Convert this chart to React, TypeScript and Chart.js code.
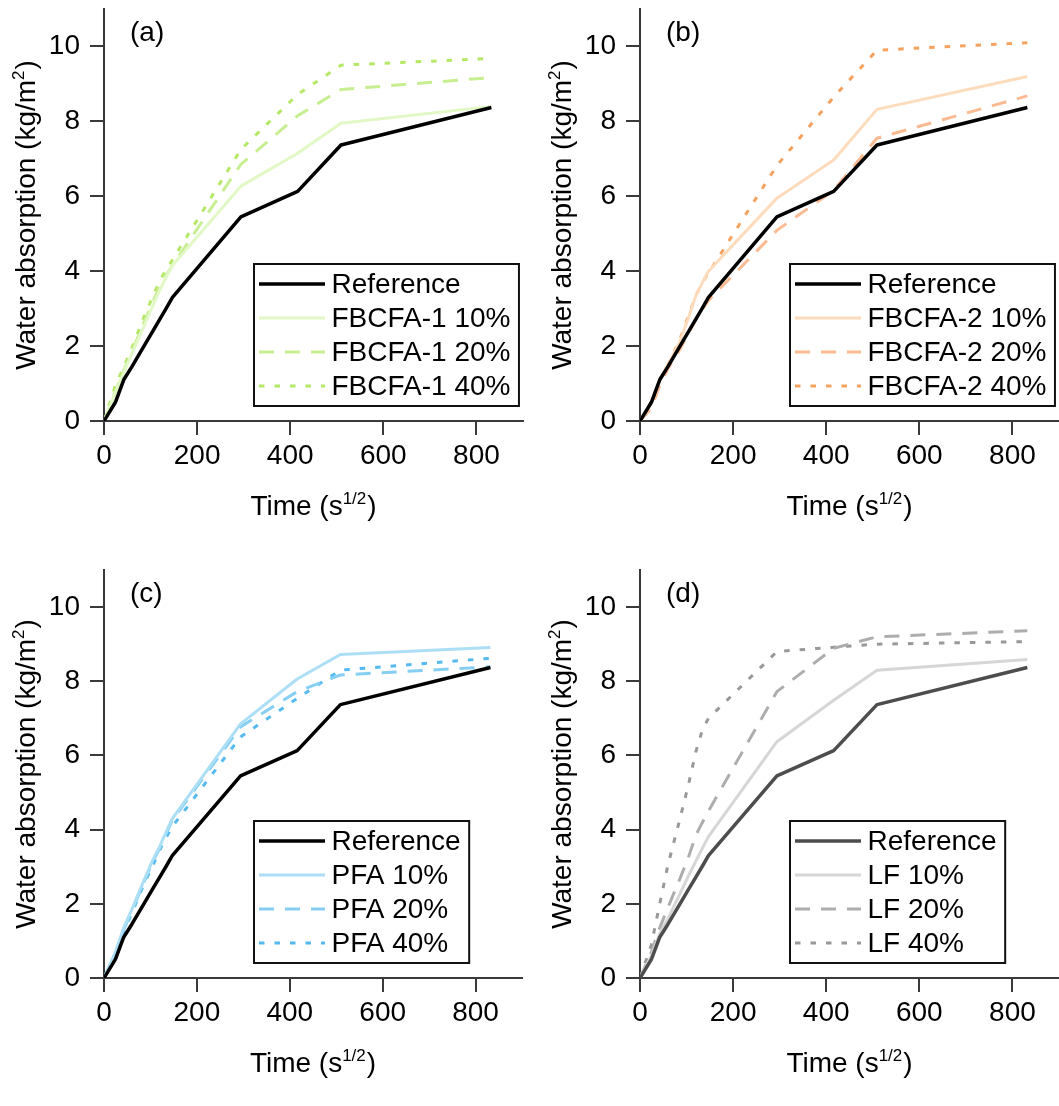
import React, { useEffect, useRef } from "react";
import { Chart, registerables } from "chart.js";

Chart.register(...registerables);

const FONT = '"Liberation Sans", Arial, Helvetica, sans-serif';
const AXIS_COLOR = "#3a3a3a";

// ---- data (x = square root of time, s^1/2) ----
const timeSqrt = [0, 24.5, 42.4, 60, 84.9, 103.9, 120, 134.2, 147, 294, 416, 509, 832];

const reference = [0, 0.5, 1.1, 1.45, 1.98, 2.38, 2.72, 3.02, 3.3, 5.45, 6.13, 7.37, 8.37];

const fbcfa1_10 = [0, 0.75, 1.3, 1.8, 2.5, 3.05, 3.5, 3.85, 4.15, 6.27, 7.15, 7.95, 8.4];
const fbcfa1_20 = [0, 0.8, 1.35, 1.85, 2.6, 3.15, 3.6, 3.9, 4.15, 6.85, 8.15, 8.85, 9.17];
const fbcfa1_40 = [0, 0.95, 1.45, 1.95, 2.75, 3.3, 3.75, 4.05, 4.3, 7.25, 8.72, 9.5, 9.68];

const fbcfa2_10 = [0, 0.5, 1.1, 1.5, 2.1, 2.75, 3.35, 3.7, 4.0, 5.95, 6.97, 8.32, 9.2];
const fbcfa2_20 = [0, 0.35, 0.95, 1.4, 1.9, 2.35, 2.7, 2.98, 3.22, 5.09, 6.16, 7.55, 8.68];
const fbcfa2_40 = [0, 0.5, 1.1, 1.5, 2.15, 2.8, 3.35, 3.7, 3.95, 6.82, 8.65, 9.9, 10.1];

const pfa_10 = [0, 0.7, 1.35, 1.85, 2.6, 3.15, 3.55, 3.95, 4.3, 6.85, 8.06, 8.72, 8.91];
const pfa_20 = [0, 0.65, 1.3, 1.8, 2.55, 3.1, 3.5, 3.9, 4.25, 6.77, 7.72, 8.17, 8.39];
const pfa_40 = [0, 0.6, 1.25, 1.75, 2.5, 3.0, 3.45, 3.8, 4.08, 6.5, 7.54, 8.3, 8.62];

const lf_10 = [0, 0.6, 1.2, 1.6, 2.25, 2.75, 3.15, 3.5, 3.81, 6.37, 7.49, 8.3, 8.59];
const lf_20 = [0, 0.7, 1.35, 1.9, 2.65, 3.25, 3.85, 4.2, 4.5, 7.72, 8.89, 9.2, 9.36];
const lf_40 = [0, 0.9, 2.0, 3.05, 4.25, 5.2, 6.1, 6.7, 7.0, 8.8, 8.92, 9.0, 9.07];

// ---- axes / labels ----
const xMajorTicks = [0, 200, 400, 600, 800];
const yMajorTicks = [0, 2, 4, 6, 8, 10];
const xRange = [0, 900];
const yRange = [0, 11];
const xTitleMain = "Time (s";
const xTitleSup = "1/2";
const yTitleMain = "Water absorption (kg/m";
const yTitleSup = "2";
const panelNames = ["(a)", "(b)", "(c)", "(d)"];

const SOLID: number[] = [];
const DASHED = [15, 11];
const DOTTED = [5.5, 10];

type Series = { label: string; values: number[]; color: string; dash: number[]; width: number };
type Panel = {
  name: string;
  x: number;
  y: number;
  w: number;
  h: number;
  area: { left: number; top: number; right: number; bottom: number };
  series: Series[];
};

const panels: Panel[] = [
  {
    name: panelNames[0], x: 0, y: 0, w: 530, h: 545,
    area: { left: 104, top: 9, right: 523, bottom: 421 },
    series: [
      { label: "Reference", values: reference, color: "#000000", dash: SOLID, width: 3.5 },
      { label: "FBCFA-1 10%", values: fbcfa1_10, color: "#e2f8c6", dash: SOLID, width: 3 },
      { label: "FBCFA-1 20%", values: fbcfa1_20, color: "#c8ee92", dash: DASHED, width: 3 },
      { label: "FBCFA-1 40%", values: fbcfa1_40, color: "#b5e866", dash: DOTTED, width: 3 },
    ],
  },
  {
    name: panelNames[1], x: 530, y: 0, w: 529, h: 545,
    area: { left: 110, top: 9, right: 529, bottom: 421 },
    series: [
      { label: "Reference", values: reference, color: "#000000", dash: SOLID, width: 3.5 },
      { label: "FBCFA-2 10%", values: fbcfa2_10, color: "#fddcbd", dash: SOLID, width: 3 },
      { label: "FBCFA-2 20%", values: fbcfa2_20, color: "#fabb92", dash: DASHED, width: 3 },
      { label: "FBCFA-2 40%", values: fbcfa2_40, color: "#f6a25f", dash: DOTTED, width: 3 },
    ],
  },
  {
    name: panelNames[2], x: 0, y: 555, w: 530, h: 551,
    area: { left: 104, top: 15, right: 522, bottom: 423 },
    series: [
      { label: "Reference", values: reference, color: "#000000", dash: SOLID, width: 3.5 },
      { label: "PFA 10%", values: pfa_10, color: "#acdff6", dash: SOLID, width: 3 },
      { label: "PFA 20%", values: pfa_20, color: "#86cff3", dash: DASHED, width: 3 },
      { label: "PFA 40%", values: pfa_40, color: "#55baf0", dash: DOTTED, width: 3 },
    ],
  },
  {
    name: panelNames[3], x: 530, y: 555, w: 529, h: 551,
    area: { left: 110, top: 15, right: 529, bottom: 423 },
    series: [
      { label: "Reference", values: reference, color: "#4d4d4d", dash: SOLID, width: 3.5 },
      { label: "LF 10%", values: lf_10, color: "#d6d6d6", dash: SOLID, width: 3 },
      { label: "LF 20%", values: lf_20, color: "#adadad", dash: DASHED, width: 3 },
      { label: "LF 40%", values: lf_40, color: "#999999", dash: DOTTED, width: 3 },
    ],
  },
];

function decorPlugin(panel: Panel) {
  return {
    id: "decor",
    afterDraw(chart: any) {
      const ctx: CanvasRenderingContext2D = chart.ctx;
      const ca = chart.chartArea;
      const xs = chart.scales.x;
      const ys = chart.scales.y;
      ctx.save();

      // tick marks (major long, minor short), outward
      ctx.strokeStyle = AXIS_COLOR;
      ctx.lineWidth = 2;
      ctx.setLineDash([]);
      ctx.beginPath();
      xs.ticks.forEach((t: any) => {
        const px = Math.round(xs.getPixelForValue(t.value));
        const len = t.label != null ? 14 : 8;
        ctx.moveTo(px, ca.bottom);
        ctx.lineTo(px, ca.bottom + len);
      });
      ys.ticks.forEach((t: any) => {
        const py = Math.round(ys.getPixelForValue(t.value));
        const len = t.label != null ? 14 : 8;
        ctx.moveTo(ca.left, py);
        ctx.lineTo(ca.left - len, py);
      });
      ctx.stroke();

      ctx.fillStyle = "#000";
      ctx.textAlign = "left";
      ctx.textBaseline = "alphabetic";

      // x axis title with superscript
      const mainFont = `28px ${FONT}`;
      const supFont = `17px ${FONT}`;
      ctx.font = mainFont;
      const wMain = ctx.measureText(xTitleMain).width;
      const wClose = ctx.measureText(")").width;
      ctx.font = supFont;
      const wSup = ctx.measureText(xTitleSup).width;
      const total = wMain + wSup + 1 + wClose;
      const cx = (ca.left + ca.right) / 2;
      const by = ca.bottom + 94;
      const sx = cx - total / 2;
      ctx.font = mainFont;
      ctx.fillText(xTitleMain, sx, by);
      ctx.font = supFont;
      ctx.fillText(xTitleSup, sx + wMain, by - 11);
      ctx.font = mainFont;
      ctx.fillText(")", sx + wMain + wSup + 1, by);

      // y axis title rotated
      ctx.save();
      ctx.translate(ca.left - 69, (ca.top + ca.bottom) / 2);
      ctx.rotate(-Math.PI / 2);
      ctx.font = mainFont;
      const yMainW = ctx.measureText(yTitleMain).width;
      ctx.font = supFont;
      const ySupW = ctx.measureText(yTitleSup).width;
      const yTot = yMainW + ySupW + 1 + wClose;
      const ys0 = -yTot / 2;
      ctx.font = mainFont;
      ctx.fillText(yTitleMain, ys0, 0);
      ctx.font = supFont;
      ctx.fillText(yTitleSup, ys0 + yMainW, -11);
      ctx.font = mainFont;
      ctx.fillText(")", ys0 + yMainW + ySupW + 1, 0);
      ctx.restore();

      // panel label
      ctx.font = mainFont;
      ctx.fillText(panel.name, ca.left + 26, ca.top + 31.5);

      // legend box
      const datasets = chart.data.datasets;
      const bx = ca.left + 150;
      const bt = ca.bottom - 157;
      ctx.font = mainFont;
      let maxW = 0;
      datasets.forEach((d: any) => {
        maxW = Math.max(maxW, ctx.measureText(d.label).width);
      });
      const bw = 77.5 + maxW + 8.5;
      const bh = 142;
      ctx.fillStyle = "#fff";
      ctx.fillRect(bx, bt, bw, bh);
      ctx.strokeStyle = "#111";
      ctx.lineWidth = 2;
      ctx.strokeRect(bx, bt, bw, bh);
      datasets.forEach((d: any, i: number) => {
        const cy = bt + 20 + i * 34;
        ctx.save();
        ctx.strokeStyle = d.borderColor;
        ctx.lineWidth = d.borderWidth;
        ctx.setLineDash(d.borderDash || []);
        ctx.beginPath();
        ctx.moveTo(bx + 5, cy);
        ctx.lineTo(bx + 71, cy);
        ctx.stroke();
        ctx.restore();
        ctx.fillStyle = "#000";
        ctx.textBaseline = "middle";
        ctx.fillText(d.label, bx + 77.5, cy + 1);
      });

      ctx.restore();
    },
  };
}

function PanelChart({ panel }: { panel: Panel }) {
  const ref = useRef<HTMLCanvasElement>(null);
  useEffect(() => {
    const canvas = ref.current;
    if (!canvas) return;
    const chart = new Chart(canvas, {
      type: "line",
      data: {
        datasets: panel.series.map((s) => ({
          label: s.label,
          data: timeSqrt.map((t, i) => ({ x: t, y: s.values[i] })),
          borderColor: s.color,
          backgroundColor: s.color,
          borderWidth: s.width,
          borderDash: s.dash,
          borderCapStyle: "butt",
          borderJoinStyle: "round",
          pointRadius: 0,
          tension: 0,
          fill: false,
        })),
      },
      options: {
        animation: false,
        responsive: false,
        maintainAspectRatio: false,
        devicePixelRatio: 1,
        layout: {
          padding: { top: panel.area.top, right: panel.w - panel.area.right, left: 0, bottom: 0 },
        },
        plugins: {
          legend: { display: false },
          tooltip: { enabled: false },
          title: { display: false },
        },
        scales: {
          x: {
            type: "linear",
            min: xRange[0],
            max: xRange[1],
            grid: { display: false, drawTicks: false },
            border: { display: true, color: AXIS_COLOR, width: 2 },
            ticks: {
              stepSize: 100,
              autoSkip: false,
              maxRotation: 0,
              padding: 18,
              color: "#000",
              font: { family: FONT, size: 28 },
              callback: (v: any) => (xMajorTicks.includes(Number(v)) ? String(v) : null),
            },
            afterFit: (s: any) => {
              s.height = panel.h - panel.area.bottom;
              s.paddingLeft = 0;
              s.paddingRight = 0;
            },
          },
          y: {
            type: "linear",
            min: yRange[0],
            max: yRange[1],
            grid: { display: false, drawTicks: false },
            border: { display: true, color: AXIS_COLOR, width: 2 },
            ticks: {
              stepSize: 1,
              autoSkip: false,
              padding: 24,
              color: "#000",
              font: { family: FONT, size: 28 },
              callback: (v: any) => (yMajorTicks.includes(Number(v)) ? String(v) : null),
            },
            afterFit: (s: any) => {
              s.width = panel.area.left;
              s.paddingTop = 0;
              s.paddingBottom = 0;
            },
          },
        },
      } as any,
      plugins: [decorPlugin(panel)],
    });
    return () => chart.destroy();
  }, [panel]);
  return (
    <canvas
      ref={ref}
      width={panel.w}
      height={panel.h}
      style={{ position: "absolute", left: panel.x, top: panel.y, width: panel.w, height: panel.h }}
    />
  );
}

export default function App() {
  return (
    <div
      style={{
        position: "absolute",
        left: 0,
        top: 0,
        width: 1059,
        height: 1106,
        background: "#ffffff",
        overflow: "hidden",
      }}
    >
      {panels.map((p) => (
        <PanelChart key={p.name} panel={p} />
      ))}
    </div>
  );
}
